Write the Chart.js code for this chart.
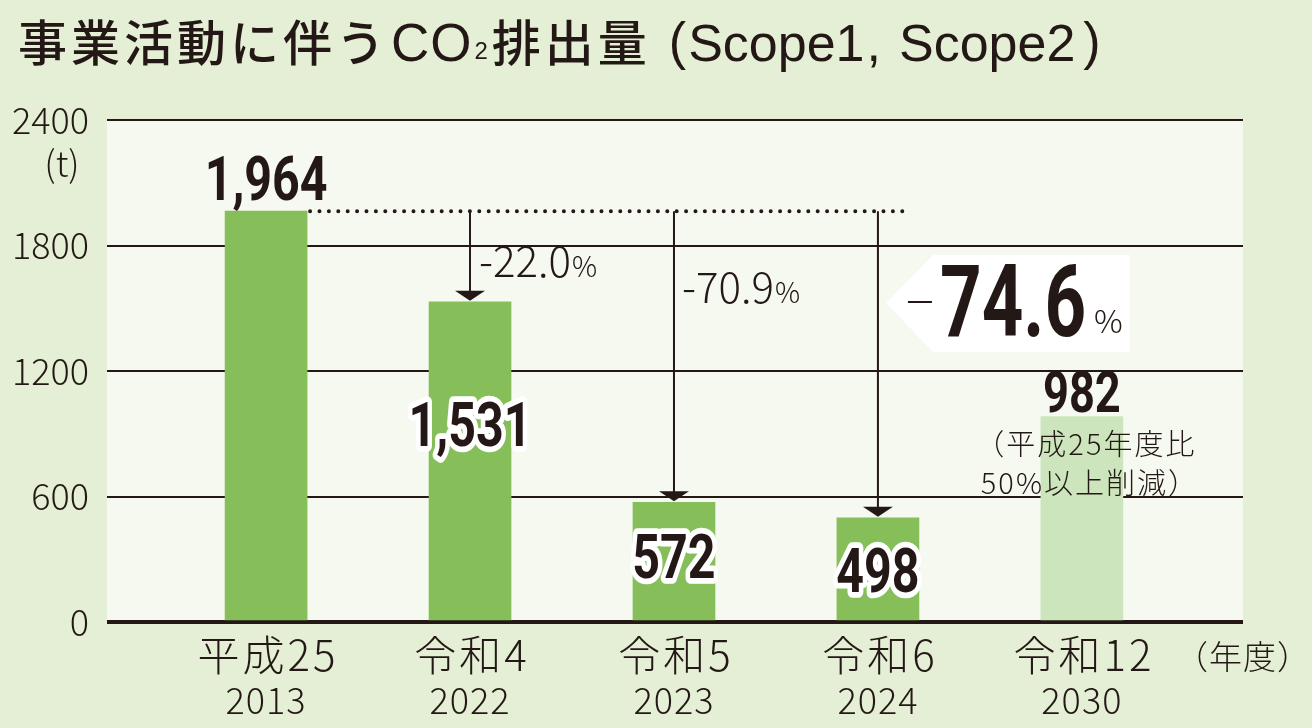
<!DOCTYPE html>
<html>
<head>
<meta charset="utf-8">
<script src="https://cdn.jsdelivr.net/npm/chart.js@4/dist/chart.umd.min.js"></script>
<style>
  html, body { margin: 0; padding: 0; background: #e4efd5; }
  #wrap { width: 1312px; height: 728px; position: relative; }
</style>
</head>
<body>
<div id="wrap"><canvas id="co2Chart"></canvas></div>
<script>
// === DATOS ===
const eraLabels = ["平成25", "令和4", "令和5", "令和6", "令和12"];
const yearLabels = ["2013", "2022", "2023", "2024", "2030"];
const emissions = [1964, 1531, 572, 498, 982];
const valueLabels = ["1,964", "1,531", "572", "498", "982"];
const reductionLabels = [null, "-22.0", "-70.9", "-74.6", null];
const yTicks = [0, 600, 1200, 1800, 2400];
const targetNote = ["（平成25年度比", "50%以上削減）"];

const INK = "#231815";
const JP = '"Noto Sans CJK JP", "Noto Sans", sans-serif';
const LAT = '"Liberation Sans", Arial, sans-serif';
const NUM = 'Roboto, "Liberation Sans", sans-serif';

function txt(ctx, s, x, y, font, align, base) {
  ctx.font = font;
  ctx.textAlign = align || "left";
  ctx.textBaseline = base || "alphabetic";
  ctx.fillText(s, x, y);
  return ctx.measureText(s).width;
}

// texto condensado (escala horizontal)
function condensed(ctx, s, x, y, font, sx, align, halo) {
  ctx.save();
  ctx.translate(x, y);
  ctx.scale(sx, 1);
  ctx.font = font;
  ctx.textAlign = align || "center";
  ctx.textBaseline = "alphabetic";
  if (halo) {
    ctx.strokeStyle = "#ffffff";
    ctx.lineWidth = halo / sx;
    ctx.lineJoin = "round";
    ctx.strokeText(s, 0, 0);
  }
  ctx.fillText(s, 0, 0);
  ctx.restore();
}

function arrow(ctx, x, y0, y1) {
  ctx.beginPath();
  ctx.moveTo(x, y0);
  ctx.lineTo(x, y1 - 8);
  ctx.stroke();
  ctx.beginPath();
  ctx.moveTo(x - 15, y1 - 10);
  ctx.lineTo(x + 15, y1 - 10);
  ctx.lineTo(x, y1);
  ctx.closePath();
  ctx.fill();
}

// fondo del area del grafico
const plotBg = {
  id: "plotBg",
  beforeDraw(chart) {
    const { ctx, chartArea: a } = chart;
    ctx.save();
    ctx.fillStyle = "#f6f9ef";
    ctx.fillRect(a.left, a.top, a.right - a.left, a.bottom - a.top);
    ctx.restore();
  }
};

// anotaciones: titulo, etiquetas, flechas
const annotations = {
  id: "annotations",
  afterDatasetsDraw(chart) {
    const { ctx, chartArea } = chart;
    const xs = chart.scales.x, ys = chart.scales.y;
    const bars = chart.getDatasetMeta(0).data;
    ctx.save();
    ctx.fillStyle = INK;
    ctx.strokeStyle = INK;

    // titulo
    let tx = 18;
    const tBase = 61;
    ctx.letterSpacing = "4px";
    tx += txt(ctx, "事業活動に伴う", tx, tBase, "500 49px " + JP);
    ctx.letterSpacing = "1px";
    tx += txt(ctx, "CO", tx + 2, tBase, "53px " + LAT) + 4;
    ctx.letterSpacing = "0px";
    tx += txt(ctx, "2", tx, tBase - 2, "24px " + LAT) + 4;
    ctx.letterSpacing = "4px";
    tx += txt(ctx, "排出量", tx, tBase, "500 49px " + JP) + 18;
    ctx.letterSpacing = "0px";
    tx += txt(ctx, "(", tx, tBase - 2, "52px " + LAT) + 2;
    tx += txt(ctx, "Scope1", tx, tBase, "52px " + LAT) + 2;
    tx += txt(ctx, ",", tx, tBase, "52px " + LAT) + 18;
    tx += txt(ctx, "Scope2", tx, tBase, "52px " + LAT) + 8;
    txt(ctx, ")", tx, tBase - 2, "52px " + LAT);

    // unidad
    txt(ctx, "(t)", 62, 163, "300 36px " + JP, "center", "middle");

    // linea punteada desde 1,964
    const yBase = ys.getPixelForValue(emissions[0]);
    ctx.save();
    ctx.lineWidth = 4;
    ctx.lineCap = "round";
    ctx.setLineDash([0, 9.4]);
    ctx.beginPath();
    ctx.moveTo(bars[0].x + 44, yBase);
    ctx.lineTo(xs.getPixelForValue(3) + 30, yBase);
    ctx.stroke();
    ctx.restore();

    // flechas
    ctx.lineWidth = 2;
    for (let i = 1; i <= 3; i++) {
      arrow(ctx, bars[i].x, yBase, bars[i].y - 1);
    }

    // porcentajes
    let w = txt(ctx, reductionLabels[1], bars[1].x + 9, 277, "300 42px " + JP);
    txt(ctx, "%", bars[1].x + 10 + w, 277, "300 28px " + JP);
    w = txt(ctx, reductionLabels[2], bars[2].x + 8, 303, "300 42px " + JP);
    txt(ctx, "%", bars[2].x + 9 + w, 303, "300 28px " + JP);

    // recuadro -74.6%
    const cx = bars[3].x;
    ctx.fillStyle = "#ffffff";
    ctx.beginPath();
    ctx.moveTo(cx + 8, 303);
    ctx.lineTo(cx + 55, 255);
    ctx.lineTo(cx + 252, 255);
    ctx.lineTo(cx + 252, 352);
    ctx.lineTo(cx + 55, 352);
    ctx.closePath();
    ctx.fill();
    ctx.fillStyle = INK;
    ctx.fillRect(cx + 30, 301, 24, 2);
    condensed(ctx, reductionLabels[3].slice(1), cx + 62, 336, "bold 101px " + NUM, 0.72, "left");
    txt(ctx, "%", cx + 216, 333, "300 32px " + JP);

    // valores de las barras
    const valueY = [bars[0].y - 11, 446, 578, 592, bars[4].y - 5];
    const sizes = [62, 62, 62, 62, 58];
    for (let i = 0; i < bars.length; i++) {
      const halo = (i >= 1 && i <= 3) ? 9 : 0;
      condensed(ctx, valueLabels[i], bars[i].x, valueY[i], "bold " + sizes[i] + "px " + NUM, 0.78, "center", halo);
    }

    // nota del objetivo
    ctx.letterSpacing = "2px";
    txt(ctx, targetNote[0], bars[4].x + 4, 455, "300 29px " + JP, "center");
    txt(ctx, targetNote[1], bars[4].x + 8, 494, "300 29px " + JP, "center");

    // etiquetas del eje x
    const yb = chartArea.bottom;
    for (let i = 0; i < eraLabels.length; i++) {
      const x = xs.getPixelForValue(i);
      ctx.letterSpacing = "3px";
      txt(ctx, eraLabels[i], x + 2, yb + 49, "300 42px " + JP, "center");
      ctx.letterSpacing = "1px";
      txt(ctx, yearLabels[i], x, yb + 92, "300 36px " + JP, "center");
    }
    ctx.letterSpacing = "1px";
    txt(ctx, "（年度）", 1243, yb + 47, "300 33px " + JP, "center");

    ctx.restore();
  }
};

const co2Chart = new Chart(document.getElementById("co2Chart"), {
  type: "bar",
  data: {
    datasets: [{
      data: emissions.map((v, i) => ({ x: i, y: v })),
      backgroundColor: emissions.map((v, i) => (i === 4 ? "#cde5bd" : "#86bf5a")),
      barThickness: 82,
      borderWidth: 0,
    }],
  },
  options: {
    responsive: true,
    maintainAspectRatio: false,
    animation: false,
    layout: { padding: { top: 120, right: 69, left: 0, bottom: 0 } },
    plugins: {
      legend: { display: false },
      tooltip: { enabled: false },
    },
    scales: {
      x: {
        type: "linear",
        offset: false,
        min: -0.78,
        max: 4.79,
        ticks: { display: false },
        grid: { display: false },
        border: { display: false },
        afterFit: (s) => { s.height = 106; },
      },
      y: {
        min: 0,
        max: 2400,
        afterBuildTicks: (s) => { s.ticks = yTicks.map(v => ({ value: v })); },
        ticks: {
          color: INK,
          padding: 18,
          font: { family: JP, size: 36, weight: "300" },
          callback: (v) => String(v),
        },
        grid: {
          color: INK,
          lineWidth: (c) => (c.tick && c.tick.value === 0 ? 4 : 2),
          drawTicks: false,
        },
        border: { display: false },
        afterFit: (s) => { s.width = 107; },
      },
    },
  },
  plugins: [plotBg, annotations],
});
</script>
</body>
</html>
